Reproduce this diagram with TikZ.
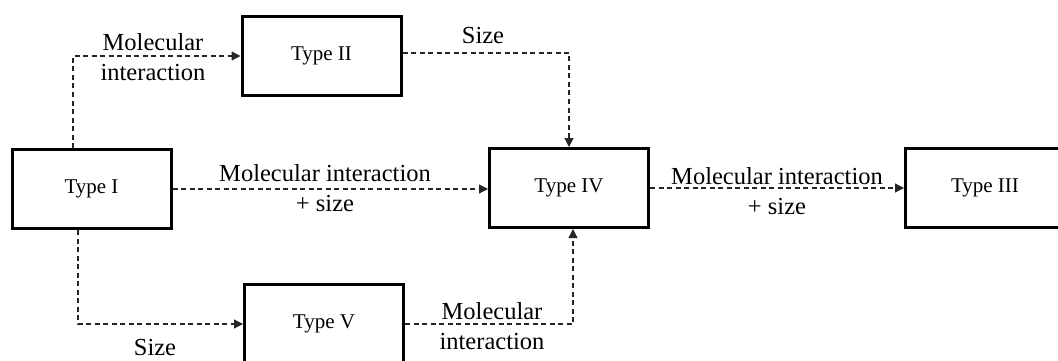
\documentclass[tikz,border=0pt]{standalone}
\usepackage{fontspec}
\setmainfont{Liberation Serif}
\usetikzlibrary{arrows.meta}

\begin{document}
\begin{tikzpicture}
\tikzset{typebox/.style={draw=black,line width=3pt,minimum width=159pt,minimum height=79pt,inner sep=0pt,font=\fontsize{21}{25}\selectfont}}
\tikzset{link/.style={draw=black!85,line width=1.2pt,dash pattern=on 5pt off 3.5pt,-{Triangle[length=9pt,width=9pt]}}}
\tikzset{lbl/.style={align=center,inner sep=0pt,font=\fontsize{24.5}{30}\selectfont}}

\begin{scope}[x={(1pt,0pt)},y={(0pt,-1pt)}]
\clip (0,0) rectangle (1058,361);
\useasboundingbox (0,0) rectangle (1058,361);

\node[typebox] (t1) at (91.5,189) {Type I};
\node[typebox] (t2) at (321.5,56) {Type II};
\node[typebox] (t4) at (569,188) {Type IV};
\node[typebox] (t3) at (985,188) {Type III};
\node[typebox] (t5) at (324,324) {Type V};

% connectors
\path[link] ([xshift=-18.5pt]t1.north) |- (t2.west);
\path[link] ([xshift=-13.5pt]t1.south) |- (t5.west);
\path[link] (t1.east) -- (t1.east -| t4.west);
\path[link] ([yshift=3pt]t2.east) -| (t4.north);
\path[link] (t5.east) -| ([xshift=4pt]t4.south);
\path[link] (t4.east) -- (t4.east -| t3.west);

% labels
\node[lbl] (l12) at (153,57) {Molecular\\interaction};
\node[lbl] (l24) at (483,36) {Size};
\node[lbl] (l14) at (325,188) {Molecular interaction\\+ size};
\node[lbl] (l43) at (777,191) {Molecular interaction\\+ size};
\node[lbl] (l54) at (492,326) {Molecular\\interaction};
\node[lbl] (l15) at (155,348) {Size};

\end{scope}
\end{tikzpicture}
\end{document}
